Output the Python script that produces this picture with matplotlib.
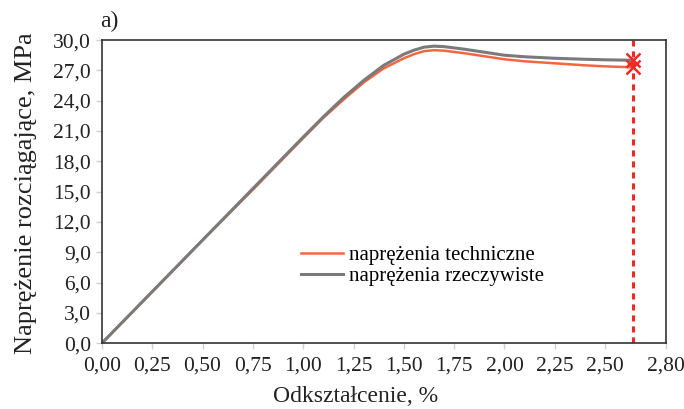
import matplotlib.pyplot as plt
import numpy as np

plt.rcParams['font.family'] = ['Liberation Serif', 'DejaVu Serif']

# odczyty z krzywych rozciagania
strain = [0.0, 0.25, 0.5, 0.75, 1.0, 1.1, 1.2, 1.3, 1.4, 1.5, 1.55, 1.6, 1.65,
          1.7, 1.8, 1.9, 2.0, 2.1, 2.25, 2.4, 2.5, 2.64]
stress_tech = [0.0, 5.1, 10.2, 15.2, 20.3, 22.3, 24.1, 25.8, 27.2, 28.2, 28.6,
               28.9, 29.0, 28.95, 28.7, 28.4, 28.1, 27.9, 27.7, 27.5, 27.4, 27.3]
stress_true = [0.0, 5.1, 10.2, 15.3, 20.4, 22.4, 24.3, 26.0, 27.5, 28.6, 29.0,
               29.3, 29.4, 29.35, 29.1, 28.8, 28.5, 28.35, 28.2, 28.1, 28.05, 28.0]
break_strain = 2.64

xticks = [0.0, 0.25, 0.5, 0.75, 1.0, 1.25, 1.5, 1.75, 2.0, 2.25, 2.5, 2.8]
yticks = [0.0, 3.0, 6.0, 9.0, 12.0, 15.0, 18.0, 21.0, 24.0, 27.0, 30.0]

c_tech = '#f4663f'
c_true = '#7a7a7a'
c_red = '#ee2a24'

fig = plt.figure(figsize=(6.84, 4.09), dpi=100)
ax = fig.add_axes([0.149, 0.161, 0.824, 0.741])

ax.plot(strain, stress_tech, color=c_tech, lw=1.8, label='naprężenia techniczne')
ax.plot(strain, stress_true, color=c_true, lw=2.2, label='naprężenia rzeczywiste')
ax.axvline(break_strain, color=c_red, lw=2.2, ls=(0, (2, 1.6)))
ax.plot([strain[-1]] * 2, [stress_tech[-1], stress_true[-1]], ls='none',
        marker='x', ms=10, mew=1.8, color=c_red)

ax.set_xlim(0, 2.8)
ax.set_ylim(0, 30)
ax.set_xticks(xticks)
ax.set_yticks(yticks)
ax.set_xticklabels([f'{v:.2f}'.replace('.', ',') for v in xticks])
ax.set_yticklabels([f'{v:.1f}'.replace('.', ',') for v in yticks])
ax.tick_params(direction='out', length=4, width=1, color='#d0d0d0',
               labelsize=15.5, labelcolor='#222222', pad=4)
ax.tick_params(axis='x', pad=6)
for s in ax.spines.values():
    s.set_color('#333333')
    s.set_linewidth(1.2)

ax.set_xlabel('Odkształcenie, %', fontsize=17, color='#222222')
ax.set_ylabel('Naprężenie rozciągające, MPa', fontsize=19, color='#222222')
ax.xaxis.set_label_coords(0.45, -0.14)
ax.yaxis.set_label_coords(-0.115, 0.495)

ax.legend(loc='center left', bbox_to_anchor=(0.32, 0.255), frameon=False,
          fontsize=15, handlelength=2.0, handletextpad=0.3, labelspacing=0.05)

fig.text(0.146, 0.935, 'a)', fontsize=17, color='#222222')

fig.savefig('out.png', dpi=100)
